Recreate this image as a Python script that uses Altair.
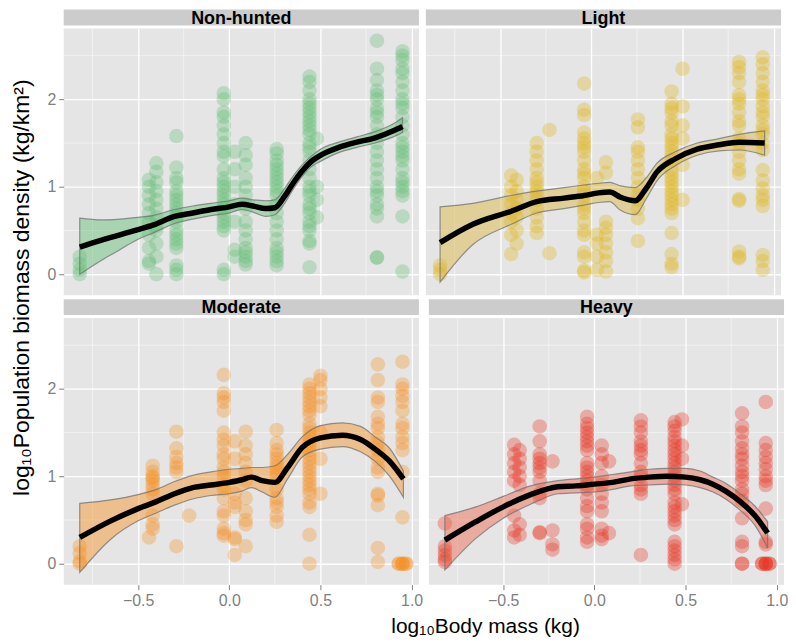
import altair as alt
import pandas as pd

FONT = "Liberation Sans"
PANELS = ["Non-hunted", "Light", "Moderate", "Heavy"]
COLORS = ["#5fbf74", "#e0b416", "#f7901e", "#e8321e"]
BAND_COLORS = ["#5fbf74", "#d9b53a", "#f7901e", "#ee6446"]

X_TICKS = [-0.5, 0.0, 0.5, 1.0]
Y_TICKS = [0, 1, 2]
X_MINOR = [-0.75, -0.25, 0.25, 0.75]
Y_MINOR = [0.5, 1.5, 2.5]
X_DOMAIN = [-0.908, 1.04]
Y_DOMAIN = [-0.24, 2.81]

X_TITLE = "log\u2081\u2080Body mass (kg)"
Y_TITLE = "log\u2081\u2080Population biomass density (kg/km\u00b2)"

# ---------------- Non-hunted ----------------
NH_X = [-0.82, -0.44, -0.40, -0.29, -0.03, 0.03, 0.09, 0.26, 0.44, 0.48, 0.81, 0.95]
NH_Y = [
    [0.0, 0.05, 0.12, 0.2],
    [1.08, 1.0, 0.9, 0.8, 0.7, 0.6, 0.45, 0.3, 0.15, 0.12],
    [1.27, 1.17, 1.05, 0.95, 0.85, 0.75, 0.65, 0.55, 0.5, 0.35, 0.2, 0.0],
    [1.58, 1.22, 1.1, 1.05, 0.95, 0.9, 0.85, 0.8, 0.75, 0.7, 0.65, 0.6, 0.5, 0.45, 0.4, 0.35, 0.3, 0.1, 0.05, 0.0],
    [2.07, 2.0, 1.85, 1.8, 1.7, 1.6, 1.5, 1.4, 1.35, 1.2, 1.1, 1.05, 1.0, 0.95, 0.9, 0.85, 0.8, 0.75, 0.7, 0.65, 0.6, 0.55, 0.5, 0.05, 0.0],
    [1.4, 1.2, 1.0, 0.8, 0.6, 0.28, 0.2],
    [1.5, 1.36, 1.25, 1.1, 1.0, 0.9, 0.8, 0.75, 0.6, 0.5, 0.4, 0.3, 0.25, 0.2, 0.15, 0.11],
    [1.43, 1.38, 1.3, 1.25, 1.2, 1.15, 1.1, 1.05, 1.0, 0.95, 0.9, 0.8, 0.7, 0.6, 0.5, 0.4, 0.3, 0.25, 0.2, 0.15, 0.1],
    [2.26, 2.2, 2.1, 2.0, 1.95, 1.9, 1.85, 1.8, 1.75, 1.7, 1.65, 1.6, 1.5, 1.45, 1.4, 1.3, 1.2, 1.1, 1.0, 0.95, 0.9, 0.8, 0.75, 0.7, 0.6, 0.55, 0.5, 0.38, 0.35, 0.08],
    [1.55, 1.0, 0.85, 0.65],
    [2.67, 2.35, 2.22, 2.1, 2.05, 2.0, 1.9, 1.85, 1.8, 1.7, 1.6, 1.5, 1.4, 1.3, 1.2, 1.1, 1.0, 0.95, 0.9, 0.8, 0.75, 0.66, 0.19, 0.19],
    [2.55, 2.5, 2.45, 2.35, 2.3, 2.2, 2.1, 2.0, 1.95, 1.9, 1.8, 1.7, 1.6, 1.5, 1.45, 1.4, 1.35, 1.3, 1.2, 1.1, 1.05, 1.0, 0.95, 0.9, 0.66, 0.03],
]
NH_SX = [-0.82, -0.7, -0.6, -0.5, -0.42, -0.3, -0.2, -0.1, 0.0, 0.07, 0.13, 0.2, 0.25, 0.3, 0.35, 0.4, 0.45, 0.5, 0.6, 0.7, 0.8, 0.9, 0.95]
NH_SY = [0.31, 0.39, 0.45, 0.51, 0.56, 0.66, 0.70, 0.74, 0.77, 0.80, 0.78, 0.75, 0.76, 0.88, 1.04, 1.18, 1.29, 1.36, 1.45, 1.51, 1.56, 1.64, 1.69]
NH_LO = [0.0, 0.16, 0.28, 0.40, 0.47, 0.58, 0.63, 0.67, 0.70, 0.74, 0.71, 0.66, 0.68, 0.80, 0.97, 1.12, 1.23, 1.29, 1.39, 1.45, 1.50, 1.57, 1.62]
NH_HI = [0.64, 0.62, 0.63, 0.65, 0.67, 0.74, 0.78, 0.81, 0.84, 0.87, 0.85, 0.84, 0.85, 0.97, 1.12, 1.25, 1.35, 1.43, 1.51, 1.57, 1.63, 1.72, 1.79]

# ---------------- Light ----------------
LT_X = [-0.83, -0.44, -0.41, -0.30, -0.23, -0.04, 0.03, 0.08, 0.255, 0.44, 0.50, 0.81, 0.94]
LT_Y = [
    [0.0, 0.05, 0.1],
    [1.13, 1.0, 0.9, 0.8, 0.7, 0.6, 0.45, 0.23],
    [1.08, 0.95, 0.85, 0.75, 0.65, 0.5, 0.35],
    [1.5, 1.4, 1.3, 1.2, 1.1, 1.05, 1.0, 0.95, 0.9, 0.85, 0.75, 0.65, 0.55, 0.47],
    [1.65, 0.24],
    [2.18, 1.88, 1.82, 1.62, 1.55, 1.5, 1.45, 1.4, 1.3, 1.2, 1.15, 1.1, 1.0, 0.95, 0.9, 0.8, 0.75, 0.7, 0.6, 0.5, 0.45, 0.25, 0.2, 0.04, 0.02],
    [1.1, 0.45, 0.35, 0.2, 0.05],
    [1.28, 1.16, 0.6, 0.53, 0.45, 0.35, 0.25, 0.15, 0.03],
    [1.77, 1.68, 1.45, 1.4, 1.3, 1.2, 1.1, 1.0, 0.9, 0.85, 0.75, 0.64, 0.38],
    [2.09, 1.95, 1.9, 1.85, 1.75, 1.7, 1.6, 1.55, 1.5, 1.45, 1.4, 1.35, 1.3, 1.2, 1.15, 1.1, 1.05, 1.0, 0.95, 0.9, 0.85, 0.8, 0.75, 0.7, 0.47, 0.23, 0.12, 0.08],
    [2.35, 1.92, 1.7, 1.55, 1.25, 0.85],
    [2.43, 2.37, 2.3, 2.2, 2.05, 2.0, 1.95, 1.85, 1.75, 1.7, 1.55, 1.5, 1.4, 1.3, 1.2, 1.15, 0.86, 0.84, 0.26, 0.2, 0.18],
    [2.48, 2.4, 2.3, 2.2, 2.1, 2.05, 2.0, 1.92, 1.85, 1.8, 1.7, 1.65, 1.6, 1.5, 1.42, 1.19, 1.07, 0.98, 0.9, 0.85, 0.78, 0.22, 0.15, 0.05],
]
LT_SX = [-0.83, -0.65, -0.44, -0.3, -0.15, -0.04, 0.04, 0.1, 0.16, 0.24, 0.3, 0.36, 0.46, 0.58, 0.7, 0.81, 0.95]
LT_SY = [0.36, 0.57, 0.72, 0.83, 0.87, 0.90, 0.93, 0.94, 0.88, 0.84, 0.98, 1.17, 1.32, 1.43, 1.48, 1.51, 1.50]
LT_LO = [-0.09, 0.34, 0.57, 0.70, 0.75, 0.79, 0.82, 0.83, 0.73, 0.68, 0.86, 1.07, 1.24, 1.36, 1.41, 1.42, 1.36]
LT_HI = [0.77, 0.81, 0.90, 0.95, 0.99, 1.02, 1.04, 1.05, 1.01, 0.99, 1.10, 1.27, 1.40, 1.50, 1.55, 1.60, 1.64]

# ---------------- Moderate ----------------
MD_X = [-0.82, -0.42, -0.44, -0.29, -0.22, -0.03, 0.03, 0.09, 0.26, 0.44, 0.50, 0.815, 0.95, 0.93, 0.97]
MD_Y = [
    [0.0, 0.03, 0.12, 0.2],
    [1.12, 1.05, 1.0, 0.98, 0.95, 0.9, 0.85, 0.8, 0.55, 0.45, 0.4],
    [0.3],
    [1.51, 1.32, 1.22, 1.15, 1.1, 1.05, 0.2],
    [0.55],
    [2.16, 1.95, 1.9, 1.85, 1.75, 1.5, 1.42, 1.35, 1.25, 1.2, 1.1, 1.05, 1.0, 0.9, 0.85, 0.75, 0.6, 0.55, 0.4, 0.35, 0.32],
    [1.4, 1.2, 0.8, 0.7, 0.65, 0.3, 0.28, 0.1],
    [1.51, 1.35, 1.25, 1.15, 1.05, 0.95, 0.75, 0.6, 0.5, 0.45, 0.2],
    [1.53, 1.38, 1.3, 1.25, 1.2, 1.15, 1.1, 1.05, 1.0, 0.85, 0.75, 0.7, 0.65, 0.55, 0.48],
    [2.05, 2.0, 1.95, 1.9, 1.85, 1.8, 1.75, 1.7, 1.6, 1.55, 1.5, 1.45, 1.4, 1.35, 1.3, 1.25, 1.2, 1.15, 1.1, 1.05, 1.0, 0.95, 0.9, 0.85, 0.8, 0.7, 0.65, 0.33, 0.0],
    [2.15, 2.1, 2.0, 1.9, 1.8, 1.5, 1.2, 0.8],
    [2.28, 2.1, 1.9, 1.85, 1.68, 1.6, 1.55, 1.45, 1.38, 1.3, 1.2, 1.1, 1.05, 0.8, 0.78, 0.67, 0.18, 0.02],
    [2.31, 2.05, 2.0, 1.92, 1.85, 1.75, 1.6, 1.55, 1.45, 1.38, 1.3, 1.05, 0.53, 0.0, 0.0, 0.0],
    [0.0, 0.0],
    [0.0, 0.0],
]
MD_SX = [-0.82, -0.65, -0.5, -0.4, -0.3, -0.2, -0.1, 0.0, 0.07, 0.12, 0.18, 0.25, 0.32, 0.4, 0.5, 0.62, 0.72, 0.8, 0.88, 0.955]
MD_SY = [0.30, 0.49, 0.63, 0.71, 0.80, 0.87, 0.90, 0.93, 0.96, 0.99, 0.95, 0.93, 1.10, 1.33, 1.44, 1.47, 1.42, 1.31, 1.17, 0.97]
MD_LO = [-0.1, 0.28, 0.49, 0.58, 0.67, 0.74, 0.78, 0.80, 0.83, 0.87, 0.82, 0.76, 0.97, 1.22, 1.31, 1.34, 1.28, 1.17, 1.0, 0.76]
MD_HI = [0.69, 0.73, 0.79, 0.85, 0.94, 1.01, 1.05, 1.08, 1.09, 1.10, 1.10, 1.12, 1.25, 1.45, 1.58, 1.61, 1.57, 1.45, 1.32, 1.06]

# ---------------- Heavy ----------------
HV_X = [-0.82, -0.44, -0.41, -0.30, -0.23, -0.04, 0.04, 0.08, 0.255, 0.44, 0.48, 0.81, 0.94, 0.92, 0.96]
HV_Y = [
    [0.46, 0.2, 0.15, 0.1, 0.05, 0.02],
    [1.36, 1.25, 1.15, 1.05, 0.95, 0.55, 0.38, 0.3],
    [1.3, 1.2, 1.1, 1.0, 0.9, 0.45, 0.33],
    [1.57, 1.4, 1.25, 1.2, 1.15, 1.1, 1.05, 0.95, 0.8, 0.75, 0.36, 0.35],
    [1.17, 0.38, 0.22, 0.16],
    [1.68, 1.6, 1.55, 1.5, 1.45, 1.4, 1.35, 1.3, 1.15, 1.1, 1.05, 1.0, 0.95, 0.9, 0.85, 0.75, 0.66, 0.6, 0.45, 0.4, 0.3, 0.25],
    [1.35, 1.25, 1.15, 1.0, 0.9, 0.8, 0.7, 0.6, 0.4, 0.32, 0.28],
    [1.17, 0.35],
    [1.64, 1.57, 1.5, 1.4, 1.35, 1.3, 1.25, 1.15, 1.05, 1.0, 0.9, 0.85, 0.8, 0.1],
    [1.62, 1.57, 1.52, 1.45, 1.4, 1.35, 1.3, 1.25, 1.2, 1.15, 1.1, 1.05, 1.0, 0.95, 0.9, 0.85, 0.8, 0.7, 0.65, 0.6, 0.55, 0.5, 0.45, 0.25, 0.2, 0.15, 0.1, 0.05, 0.0],
    [1.65, 1.35, 1.2, 0.68],
    [1.72, 1.57, 1.5, 1.4, 1.32, 1.25, 1.2, 1.12, 1.05, 1.0, 0.95, 0.85, 0.8, 0.72, 0.52, 0.25, 0.2, 0.0, 0.0],
    [1.85, 1.38, 1.3, 1.22, 1.15, 1.08, 1.0, 0.95, 0.9, 0.63, 0.25, 0.22, 0.0, 0.0, 0.0],
    [0.0, 0.0],
    [0.0, 0.0],
]
HV_SX = [-0.82, -0.65, -0.5, -0.35, -0.2, -0.1, 0.0, 0.1, 0.2, 0.3, 0.4, 0.5, 0.58, 0.65, 0.72, 0.8, 0.88, 0.95]
HV_SY = [0.27, 0.48, 0.65, 0.79, 0.88, 0.89, 0.91, 0.93, 0.97, 0.99, 1.0, 0.99, 0.96, 0.91, 0.83, 0.71, 0.55, 0.35]
HV_LO = [-0.07, 0.29, 0.52, 0.68, 0.80, 0.81, 0.82, 0.85, 0.89, 0.90, 0.91, 0.90, 0.87, 0.82, 0.74, 0.61, 0.44, 0.18]
HV_HI = [0.55, 0.65, 0.77, 0.89, 0.95, 0.97, 0.99, 1.02, 1.05, 1.08, 1.09, 1.09, 1.06, 0.99, 0.92, 0.80, 0.66, 0.48]

DATA = [
    (NH_X, NH_Y, NH_SX, NH_SY, NH_LO, NH_HI),
    (LT_X, LT_Y, LT_SX, LT_SY, LT_LO, LT_HI),
    (MD_X, MD_Y, MD_SX, MD_SY, MD_LO, MD_HI),
    (HV_X, HV_Y, HV_SX, HV_SY, HV_LO, HV_HI),
]

W_L, W_R = 357, 357
H = 268
SH = 16
GRAY_TXT = "#7f7f7f"


def points_frame(xs, yss):
    rows = []
    for x, ys in zip(xs, yss):
        for y in ys:
            rows.append({"x": x, "y": y})
    return pd.DataFrame(rows)


def make_panel(i, show_x, show_y, width):
    xs, yss, sx, sy, lo, hi = DATA[i]
    color = COLORS[i]
    xscale = alt.Scale(domain=X_DOMAIN, nice=False, zero=False)
    yscale = alt.Scale(domain=Y_DOMAIN, nice=False, zero=False)
    xaxis = alt.Axis(values=X_TICKS, labels=show_x, ticks=show_x, domain=False, grid=True,
                     gridColor="white", gridWidth=1.3, title=None, format=".1f",
                     labelColor=GRAY_TXT, labelFontSize=16, labelFont=FONT,
                     tickColor=GRAY_TXT, tickSize=5, labelPadding=3, minExtent=0)
    yaxis = alt.Axis(values=Y_TICKS, labels=show_y, ticks=show_y, domain=False, grid=True,
                     gridColor="white", gridWidth=1.3, title=None, format="d",
                     labelColor=GRAY_TXT, labelFontSize=16, labelFont=FONT,
                     tickColor=GRAY_TXT, tickSize=5, labelPadding=3, minExtent=0)

    xminor = alt.Chart(pd.DataFrame({"x": X_MINOR})).mark_rule(
        color="white", strokeWidth=0.6, opacity=0.8
    ).encode(x=alt.X("x:Q", scale=xscale, axis=xaxis))
    yminor = alt.Chart(pd.DataFrame({"y": Y_MINOR})).mark_rule(
        color="white", strokeWidth=0.6, opacity=0.8
    ).encode(y=alt.Y("y:Q", scale=yscale, axis=yaxis))

    pts = alt.Chart(points_frame(xs, yss)).mark_circle(
        size=215, opacity=0.32, color=color
    ).encode(x=alt.X("x:Q", scale=xscale, axis=xaxis),
             y=alt.Y("y:Q", scale=yscale, axis=yaxis))

    smooth = pd.DataFrame({"x": sx, "y": sy, "lo": lo, "hi": hi})
    band = alt.Chart(smooth).mark_area(
        fill=BAND_COLORS[i], fillOpacity=0.45, stroke="#707070", strokeWidth=1.2,
        strokeOpacity=0.75, interpolate="monotone"
    ).encode(x=alt.X("x:Q", scale=xscale, axis=xaxis),
             y=alt.Y("lo:Q", scale=yscale, axis=yaxis),
             y2="hi:Q")
    line = alt.Chart(smooth).mark_line(
        color="black", strokeWidth=5.5, interpolate="monotone"
    ).encode(x=alt.X("x:Q", scale=xscale, axis=xaxis),
             y=alt.Y("y:Q", scale=yscale, axis=yaxis))

    plot = alt.layer(xminor, yminor, pts, band, line).properties(
        width=width, height=H,
        view=alt.ViewBackground(fill="#e5e5e5", stroke=None),
    )

    sdf = pd.DataFrame({"label": [PANELS[i]]})
    strip_bg = alt.Chart(sdf).mark_rect(color="#cccccc").encode(
        x=alt.value(0), x2=alt.value(width), y=alt.value(0), y2=alt.value(SH)
    )
    strip_tx = alt.Chart(sdf).mark_text(
        font=FONT, fontSize=18, fontWeight="bold", color="black",
        align="center", baseline="middle"
    ).encode(text="label:N", x=alt.value(width / 2), y=alt.value(SH / 2 + 1))
    strip = alt.layer(strip_bg, strip_tx).properties(width=width, height=SH)

    return alt.vconcat(strip, plot, spacing=0)


top = alt.hconcat(make_panel(0, False, True, W_L), make_panel(1, False, False, W_R), spacing=5)
bottom = alt.hconcat(make_panel(2, True, True, W_L), make_panel(3, True, False, W_R), spacing=5)
grid = alt.vconcat(top, bottom, spacing=3)

GRID_H = 2 * (SH + H) + 3
ytitle = alt.Chart(pd.DataFrame({"t": [Y_TITLE]})).mark_text(
    font=FONT, fontSize=23, angle=270, align="center", baseline="middle", color="black"
).encode(text="t:N", x=alt.value(14), y=alt.value(GRID_H / 2 - 6)).properties(width=26, height=GRID_H)

xtitle = alt.Chart(pd.DataFrame({"t": [X_TITLE]})).mark_text(
    font=FONT, fontSize=21, align="center", baseline="alphabetic", color="black"
).encode(text="t:N", x=alt.value(424), y=alt.value(25)).properties(width=W_L + W_R + 5, height=28)

chart = alt.hconcat(ytitle, alt.vconcat(grid, xtitle, spacing=0), spacing=12).properties(
    padding={"left": 0, "top": 0, "right": 0, "bottom": 0}
).configure_view(stroke=None)

chart.save("out.html", embed_options={"renderer": "svg", "actions": False})
